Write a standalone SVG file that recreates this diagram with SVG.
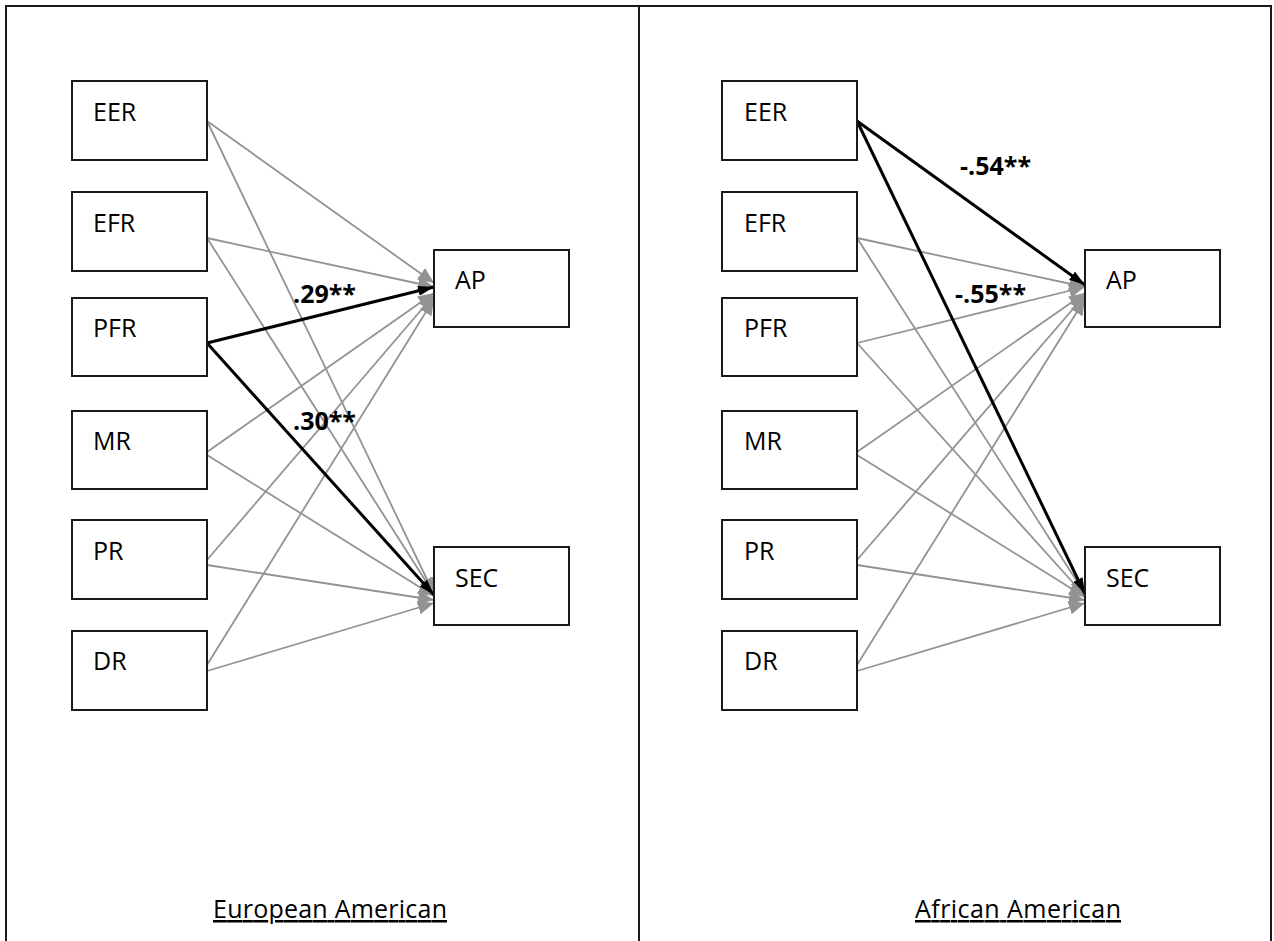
<svg xmlns="http://www.w3.org/2000/svg" width="1274" height="941" viewBox="0 0 1274 941">
<style>
.frame{fill:none;stroke:#1a1a1a;stroke-width:2}
.box{fill:#fff;stroke:#1a1a1a;stroke-width:2}
.lbl{font-family:"Open Sans","Noto Sans",sans-serif;font-size:25px;fill:#000}
.coef{font-family:"Open Sans","Noto Sans",sans-serif;font-size:25px;font-weight:bold;fill:#000}
.cap{font-family:"Open Sans","Noto Sans",sans-serif;font-size:25px;fill:#000;text-decoration:underline}
.g{stroke:#939393;stroke-width:1.8;fill:none;marker-end:url(#ag)}
.b{stroke:#000;stroke-width:3;fill:none;marker-end:url(#ab)}
</style>
<defs>
<marker id="ag" markerUnits="userSpaceOnUse" markerWidth="16" markerHeight="14" refX="16" refY="7" orient="auto">
<path d="M0,0 L16,7 L0,14 z" fill="#939393"/>
</marker>
<marker id="ab" markerUnits="userSpaceOnUse" markerWidth="16" markerHeight="10" refX="16" refY="5" orient="auto">
<path d="M0,0 L16,5 L0,10 z" fill="#000"/>
</marker>
</defs>
<rect width="1274" height="941" fill="#fff"/>
<g id="frame">
<polyline class="frame" points="6,945 6,6 1271,6 1271,945"/>
<line class="frame" x1="639" y1="6" x2="639" y2="945"/>
</g>
<g id="connectors">
<line class="g" x1="207" y1="121" x2="434" y2="283"/>
<line class="g" x1="207" y1="121" x2="434" y2="594"/>
<line class="g" x1="207" y1="238" x2="434" y2="287"/>
<line class="g" x1="207" y1="238" x2="434" y2="594"/>
<line class="g" x1="207" y1="452" x2="434" y2="293"/>
<line class="g" x1="207" y1="455" x2="434" y2="596"/>
<line class="g" x1="207" y1="560" x2="434" y2="295"/>
<line class="g" x1="207" y1="565" x2="434" y2="600"/>
<line class="g" x1="207" y1="665" x2="434" y2="299"/>
<line class="g" x1="207" y1="671" x2="434" y2="603"/>
<line class="b" x1="207" y1="343" x2="434" y2="287"/>
<line class="b" x1="207" y1="343" x2="434" y2="595"/>
<line class="g" x1="857" y1="238" x2="1085" y2="287"/>
<line class="g" x1="857" y1="238" x2="1085" y2="594"/>
<line class="g" x1="857" y1="343" x2="1085" y2="287"/>
<line class="g" x1="857" y1="343" x2="1085" y2="596"/>
<line class="g" x1="857" y1="452" x2="1085" y2="293"/>
<line class="g" x1="857" y1="455" x2="1085" y2="597"/>
<line class="g" x1="857" y1="560" x2="1085" y2="295"/>
<line class="g" x1="857" y1="565" x2="1085" y2="600"/>
<line class="g" x1="857" y1="665" x2="1085" y2="299"/>
<line class="g" x1="857" y1="671" x2="1085" y2="603"/>
<line class="b" x1="857" y1="121" x2="1085" y2="285"/>
<line class="b" x1="857" y1="121" x2="1085" y2="594"/>
</g>
<g id="L-EER"><rect class="box" x="72" y="81" width="135" height="79"/><text class="lbl" x="93" y="121">EER</text></g>
<g id="L-EFR"><rect class="box" x="72" y="192" width="135" height="79"/><text class="lbl" x="93" y="232">EFR</text></g>
<g id="L-PFR"><rect class="box" x="72" y="298" width="135" height="78"/><text class="lbl" x="93" y="337">PFR</text></g>
<g id="L-MR"><rect class="box" x="72" y="411" width="135" height="78"/><text class="lbl" x="93" y="450">MR</text></g>
<g id="L-PR"><rect class="box" x="72" y="520" width="135" height="79"/><text class="lbl" x="93" y="560">PR</text></g>
<g id="L-DR"><rect class="box" x="72" y="631" width="135" height="79"/><text class="lbl" x="93" y="670">DR</text></g>
<g id="L-AP"><rect class="box" x="434" y="250" width="135" height="77"/><text class="lbl" x="455" y="289">AP</text></g>
<g id="L-SEC"><rect class="box" x="434" y="547" width="135" height="78"/><text class="lbl" x="455" y="587">SEC</text></g>
<g id="R-EER"><rect class="box" x="722" y="81" width="135" height="79"/><text class="lbl" x="744" y="121">EER</text></g>
<g id="R-EFR"><rect class="box" x="722" y="192" width="135" height="79"/><text class="lbl" x="744" y="232">EFR</text></g>
<g id="R-PFR"><rect class="box" x="722" y="298" width="135" height="78"/><text class="lbl" x="744" y="337">PFR</text></g>
<g id="R-MR"><rect class="box" x="722" y="411" width="135" height="78"/><text class="lbl" x="744" y="450">MR</text></g>
<g id="R-PR"><rect class="box" x="722" y="520" width="135" height="79"/><text class="lbl" x="744" y="560">PR</text></g>
<g id="R-DR"><rect class="box" x="722" y="631" width="135" height="79"/><text class="lbl" x="744" y="670">DR</text></g>
<g id="R-AP"><rect class="box" x="1085" y="250" width="135" height="77"/><text class="lbl" x="1106" y="289">AP</text></g>
<g id="R-SEC"><rect class="box" x="1085" y="547" width="135" height="78"/><text class="lbl" x="1106" y="587">SEC</text></g>
<g id="coefficients">
<text class="coef" x="293" y="303">.29**</text>
<text class="coef" x="293" y="430">.30**</text>
<text class="coef" x="960" y="175">-.54**</text>
<text class="coef" x="955" y="303">-.55**</text>
</g>
<g id="captions">
<text class="cap" x="213" y="918" textLength="234">European American</text>
<text class="cap" x="915" y="918" textLength="206">African American</text>
</g>
</svg>
